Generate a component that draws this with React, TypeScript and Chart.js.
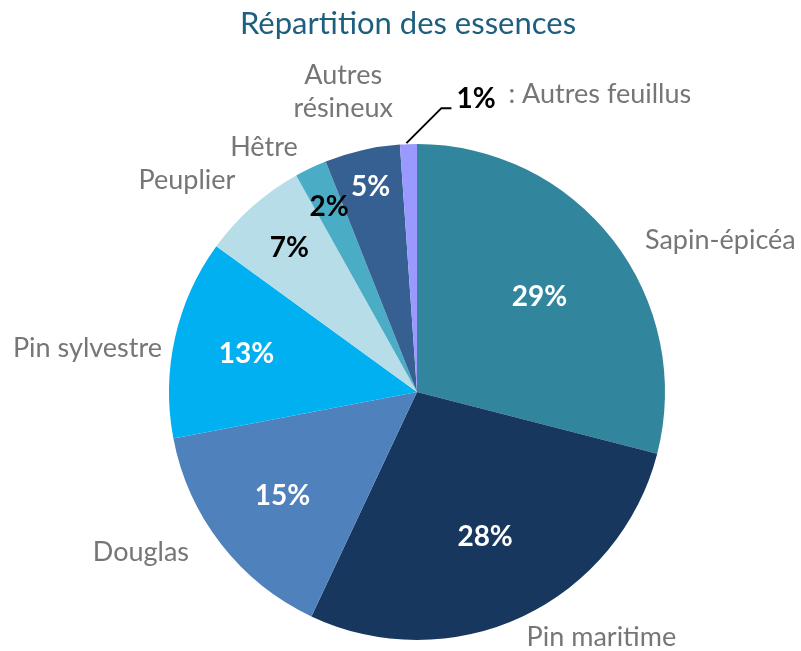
import React, { useEffect, useRef } from 'react';
import { Chart, registerables } from 'chart.js';

Chart.register(...registerables);

const categories = ['Sapin-épicéa', 'Pin maritime', 'Douglas', 'Pin sylvestre', 'Peuplier', 'Hêtre', 'Autres résineux', 'Autres feuillus'];
const shares = [29.0, 28.0, 15.0, 13.0, 6.9, 2.1, 4.9, 1.1];
const sliceColors = ['#31859C', '#17375E', '#4F81BD', '#00B0F0', '#B7DEE8', '#4BACC6', '#376092', '#9999FF'];
const pctTextColors = ['#FFFFFF', '#FFFFFF', '#FFFFFF', '#FFFFFF', '#000000', '#000000', '#FFFFFF', '#000000'];
const titleText = 'Répartition des essences';

const FONT = 'Lato, "Open Sans", sans-serif';

const labelPlugin = {
  id: 'labelPlugin',
  afterDraw(chart: any) {
    const ctx = chart.ctx;
    const meta = chart.getDatasetMeta(0);
    const pctRadius = [0.625, 0.645, 0.686, 0.705, 0.775, 0.826, 0.846, 0];
    const outer: any[] = [
      { dx: 32, dy: 0, align: 'left' },
      { dx: 4, dy: 21, align: 'left' },
      { dx: -32, dy: 8, align: 'right' },
      { dx: -13, dy: 10, align: 'right' },
      { dx: -17, dy: -26, align: 'right' },
      { dx: -13, dy: -21, align: 'right' },
    ];
    ctx.save();
    // title
    ctx.fillStyle = '#1D5F7F';
    ctx.font = `31px ${FONT}`;
    ctx.textAlign = 'center';
    ctx.textBaseline = 'alphabetic';
    ctx.fillText(titleText, 408, 34);

    meta.data.forEach((arc: any, i: number) => {
      const p = arc.getProps(['x', 'y', 'startAngle', 'endAngle', 'outerRadius'], true);
      const mid = (p.startAngle + p.endAngle) / 2;
      const cx = Math.cos(mid), cy = Math.sin(mid);
      const r = p.outerRadius;
      const ex = p.x + cx * r, ey = p.y + cy * r;
      const pct = Math.round(shares[i]) + '%';
      if (i < 7) {
        ctx.font = `bold 28px ${FONT}`;
        ctx.fillStyle = pctTextColors[i];
        ctx.textAlign = 'center';
        ctx.textBaseline = 'middle';
        ctx.fillText(pct, p.x + cx * r * pctRadius[i], p.y + cy * r * pctRadius[i]);
      }
      ctx.font = `27px ${FONT}`;
      ctx.fillStyle = '#767676';
      if (i < 6) {
        const o = outer[i];
        ctx.textAlign = o.align;
        ctx.textBaseline = 'middle';
        ctx.fillText(categories[i], ex + o.dx, ey + o.dy);
      } else if (i === 6) {
        const parts = categories[i].split(' ');
        ctx.textAlign = 'center';
        ctx.textBaseline = 'middle';
        ctx.fillText(parts[0], ex - 19, ey - 75);
        ctx.fillText(parts[1], ex - 19, ey - 42);
      } else {
        ctx.strokeStyle = '#000000';
        ctx.lineWidth = 2;
        ctx.beginPath();
        ctx.moveTo(ex - 2, ey - 1);
        ctx.lineTo(ex + 33, ey - 36);
        ctx.lineTo(ex + 43, ey - 36);
        ctx.stroke();
        ctx.textBaseline = 'alphabetic';
        ctx.textAlign = 'left';
        ctx.font = `bold 28px ${FONT}`;
        ctx.fillStyle = '#000000';
        ctx.fillText(pct, ex + 48, ey - 36);
        ctx.font = `27px ${FONT}`;
        ctx.fillStyle = '#767676';
        ctx.fillText(': ' + categories[i], ex + 100, ey - 41);
      }
    });
    ctx.restore();
  },
};

export default function App() {
  const ref = useRef<HTMLCanvasElement | null>(null);
  useEffect(() => {
    document.body.style.margin = '0';
    if (!ref.current) return;
    const chart = new Chart(ref.current, {
      type: 'pie',
      data: {
        labels: categories,
        datasets: [{ data: shares, backgroundColor: sliceColors, borderWidth: 0 }],
      },
      options: {
        animation: false,
        responsive: false,
        layout: { padding: { left: 169, top: 144, right: 136, bottom: 11 } },
        plugins: { legend: { display: false }, title: { display: false }, tooltip: { enabled: false } },
      },
      plugins: [labelPlugin],
    });
    return () => chart.destroy();
  }, []);
  return (
    <div style={{ width: 801, height: 651, background: '#fff' }}>
      <canvas ref={ref} width={801} height={651} style={{ display: 'block' }} />
    </div>
  );
}
